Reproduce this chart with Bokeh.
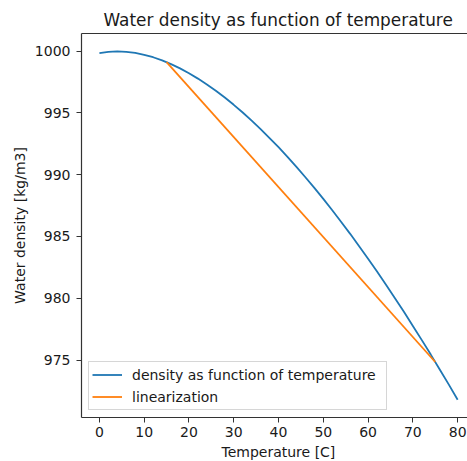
from bokeh.plotting import figure
from bokeh.models import (FixedTicker, Legend, LegendItem, LinearAxis, Range1d,
                          Title)
from bokeh.embed import file_html
from bokeh.resources import INLINE

# Density of water (kg/m3) tabulated every 2 degrees C
temperature = [0, 2, 4, 6, 8, 10, 12, 14, 16, 18, 20, 22, 24, 26, 28, 30, 32,
               34, 36, 38, 40, 42, 44, 46, 48, 50, 52, 54, 56, 58, 60, 62, 64,
               66, 68, 70, 72, 74, 76, 78, 80]
density = [999.84, 999.94, 999.97, 999.94, 999.85, 999.70, 999.50, 999.24,
           998.94, 998.60, 998.21, 997.77, 997.30, 996.79, 996.24, 995.65,
           995.03, 994.37, 993.68, 992.96, 992.22, 991.44, 990.63, 989.79,
           988.93, 988.04, 987.12, 986.17, 985.21, 984.21, 983.20, 982.16,
           981.09, 980.00, 978.90, 977.76, 976.61, 975.44, 974.24, 973.03,
           971.79]

# Secant line between 15 C and 75 C
lin_temperature = [15, 75]
lin_density = [999.10, 974.84]

x_ticks = [0, 10, 20, 30, 40, 50, 60, 70, 80]
y_ticks = [975, 980, 985, 990, 995, 1000]

FONT = "DejaVu Sans"
TXT = "#1a1a1a"
SPINE = "#333333"
LABEL_SIZE = "14px"

p = figure(width=467, height=461, output_backend="svg", toolbar_location=None,
           x_range=Range1d(-4, 82.2), y_range=Range1d(970.35, 1001.42),
           min_border_left=81, min_border_right=0, min_border_top=33,
           min_border_bottom=0)
p.outline_line_color = None
p.xgrid.visible = False
p.ygrid.visible = False
p.background_fill_color = "white"
p.border_fill_color = "white"

blue = p.line(temperature, density, line_color="#1f77b4", line_width=1.8)
orange = p.line(lin_temperature, lin_density, line_color="#ff7f0e", line_width=1.8)

for ax in (p.xaxis[0], p.yaxis[0]):
    ax.minor_tick_line_color = None
    ax.major_tick_in = 0
    ax.major_tick_out = 5
    ax.axis_line_color = SPINE
    ax.axis_line_width = 1.2
    ax.major_tick_line_color = SPINE
    ax.major_label_text_font = FONT
    ax.major_label_text_font_size = LABEL_SIZE
    ax.major_label_text_color = TXT

p.xaxis.ticker = FixedTicker(ticks=x_ticks)
p.yaxis.ticker = FixedTicker(ticks=y_ticks)
p.xaxis.major_label_standoff = 4
p.yaxis.major_label_standoff = 6

p.yaxis.axis_label = "Water density [kg/m3]"
p.yaxis.axis_label_text_font = FONT
p.yaxis.axis_label_text_font_size = LABEL_SIZE
p.yaxis.axis_label_text_font_style = "normal"
p.yaxis.axis_label_text_color = TXT
p.yaxis.axis_label_standoff = 4

# top spine only (no right spine in view)
top = LinearAxis(ticker=FixedTicker(ticks=[]), axis_line_color=SPINE,
                 axis_line_width=1.2, major_tick_out=0, major_tick_in=0,
                 minor_tick_out=0, minor_tick_in=0)
p.add_layout(top, "above")

p.title = Title(text="Water density as function of temperature", align="left",
                offset=22, text_font=FONT, text_font_size="16.9px",
                text_font_style="normal", text_color=TXT, standoff=7)

p.add_layout(Title(text="Temperature [C]", align="left", offset=140,
                   text_font=FONT, text_font_size=LABEL_SIZE,
                   text_font_style="normal", text_color=TXT, standoff=4),
             "below")

legend = Legend(items=[LegendItem(label="density as function of temperature", renderers=[blue]),
                       LegendItem(label="linearization", renderers=[orange])],
                location=(7, 7), glyph_width=30, glyph_height=19, label_height=19,
                label_width=251, spacing=3, padding=3, label_standoff=10, margin=0,
                label_text_font=FONT, label_text_font_size=LABEL_SIZE,
                label_text_color=TXT, border_line_color="#cccccc",
                border_line_alpha=0.8, background_fill_alpha=0.8)
p.add_layout(legend, "center")

open("out.html", "w").write(file_html(p, INLINE))
